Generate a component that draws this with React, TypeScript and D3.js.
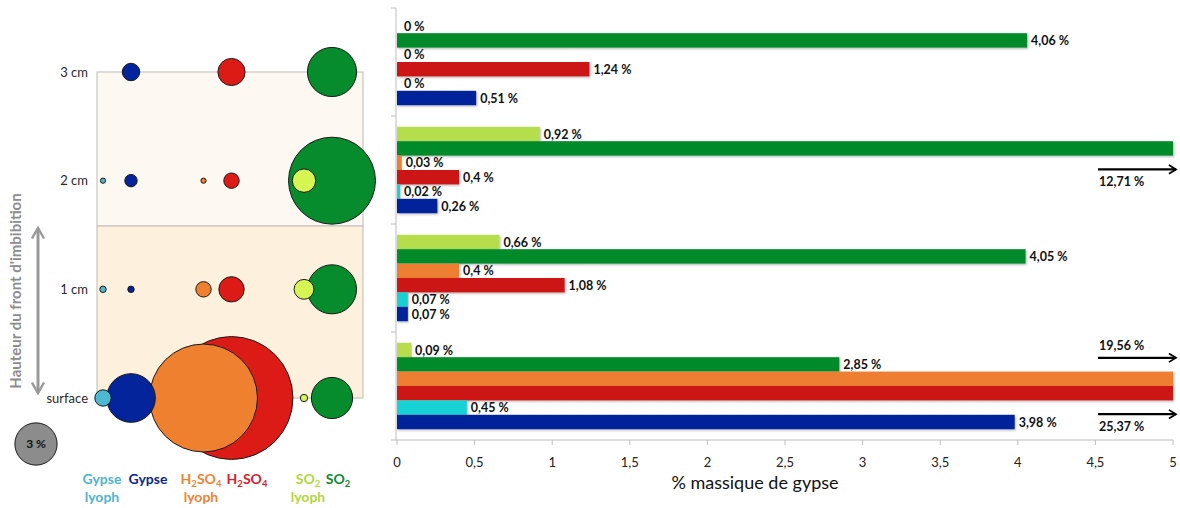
import { useEffect } from 'react'
import * as d3 from 'd3'

// depths, top to bottom
const depths = ['3 cm', '2 cm', '1 cm', 'surface']

// % massique de gypse, one value per depth (same order as depths)
const gypseLyoph = [0, 0.02, 0.07, 0.45]
const gypse = [0.51, 0.26, 0.07, 3.98]
const h2so4Lyoph = [0, 0.03, 0.4, 19.56]
const h2so4 = [1.24, 0.4, 1.08, 25.37]
const so2Lyoph = [0, 0.92, 0.66, 0.09]
const so2 = [4.06, 12.71, 4.05, 2.85]

const xTicks = [0, 0.5, 1, 1.5, 2, 2.5, 3, 3.5, 4, 4.5, 5]
const legendValue = 3

const series = [
  { key: 'so2Lyoph', pair: 'SO2', lyoph: true, values: so2Lyoph, bar: '#b6dd4c', bubble: '#d6f452', text: '#b2d63e' },
  { key: 'so2', pair: 'SO2', lyoph: false, values: so2, bar: '#058a2c', bubble: '#068c2c', text: '#118a2e' },
  { key: 'h2so4Lyoph', pair: 'H2SO4', lyoph: true, values: h2so4Lyoph, bar: '#ee7f31', bubble: '#ee8030', text: '#f08232' },
  { key: 'h2so4', pair: 'H2SO4', lyoph: false, values: h2so4, bar: '#cc1812', bubble: '#dc1b16', text: '#dc1a2e' },
  { key: 'gypseLyoph', pair: 'Gypse', lyoph: true, values: gypseLyoph, bar: '#19d2d4', bubble: '#4db8d2', text: '#4cb6d2' },
  { key: 'gypse', pair: 'Gypse', lyoph: false, values: gypse, bar: '#03249a', bubble: '#03249a', text: '#0a2790' },
]

const FONT = 'Lato, "Open Sans", sans-serif'
const fmt = (v: number) => `${String(v).replace('.', ',')} %`

// chemical formula with subscripts
function Formula({ name, x, y, color, size }: { name: string; x: number; y: number; color: string; size: number }) {
  const parts = name.match(/[A-Za-z]+|\d+/g) || []
  return (
    <text x={x} y={y} fill={color} fontSize={size} fontWeight={700} textAnchor="middle" fontFamily={FONT}>
      {parts.map((p, i) =>
        /\d/.test(p) ? (
          <tspan key={i} fontSize={size * 0.68} dy={3}>{p}</tspan>
        ) : (
          <tspan key={i} dy={i > 0 ? -3 : 0}>{p}</tspan>
        )
      )}
    </text>
  )
}

export default function App() {
  useEffect(() => {
    document.body.style.margin = '0'
  }, [])

  // ---------- bar chart ----------
  const x = d3.scaleLinear().domain([0, 5]).range([397, 1173]).clamp(true)
  const gy = d3.scaleBand().domain(depths).range([8, 440])
  const sy = d3.scaleBand().domain(series.map(s => s.key)).range([0, gy.bandwidth()]).paddingOuter(0.75)
  const axisY = 440

  const bars = series.flatMap(s =>
    depths.map((d, i) => ({ s, depth: d, value: s.values[i], y: (gy(d) as number) + (sy(s.key) as number) }))
  )

  // ---------- bubble panel ----------
  const rowY = d3.scalePoint().domain(depths).range([72, 398])
  const pairX = d3.scalePoint().domain(['Gypse', 'H2SO4', 'SO2']).range([117, 318])
  const colX = (s: typeof series[number]) => (pairX(s.pair) as number) + (s.lyoph ? -14 : 14)
  const r = d3.scaleSqrt().domain([0, 1]).range([0, 12.2])
  const bubbles = bars
    .filter(b => b.value > 0)
    .map(b => ({ ...b, cx: colX(b.s), cy: rowY(b.depth) as number, r: Math.max(2.6, r(b.value)) }))
    .sort((a, b) => b.r - a.r)

  const panelTop = rowY('3 cm') as number
  const panelBottom = rowY('surface') as number
  const split = 226

  return (
    <svg width={1180} height={508} style={{ position: 'absolute', left: 0, top: 0, display: 'block' }} fontFamily={FONT}>
      <defs>
        <filter id="sh" x="-5%" y="-30%" width="110%" height="180%">
          <feDropShadow dx="1" dy="1.2" stdDeviation="0.8" floodColor="#000" floodOpacity="0.3" />
        </filter>
        <marker id="ah" viewBox="0 0 10 10" refX="8" refY="5" markerWidth="5" markerHeight="5" orient="auto-start-reverse">
          <path d="M1,1 L8,5 L1,9" fill="none" stroke="#999" strokeWidth="1.6" />
        </marker>
        <marker id="bh" viewBox="0 0 14 14" refX="12" refY="7" markerWidth="11" markerHeight="11" orient="auto" markerUnits="userSpaceOnUse">
          <path d="M3,1.5 L12,7 L3,12.5" fill="none" stroke="#000" strokeWidth="2.2" />
        </marker>
      </defs>

      {/* ---------- left panel ---------- */}
      <rect x={97} y={panelTop} width={266} height={split - panelTop} fill="#fdf8f2" stroke="#c9c5c0" strokeWidth={1.2} />
      <rect x={97} y={split} width={266} height={panelBottom - split} fill="#fdf1dd" stroke="#c9c5c0" strokeWidth={1.2} />

      {depths.map(d => (
        <text key={d} x={88} y={(rowY(d) as number) + 4.5} textAnchor="end" fontSize={13} fill="#2a2a2a">{d}</text>
      ))}

      {bubbles.map(b => (
        <circle key={b.s.key + b.depth} cx={b.cx} cy={b.cy} r={b.r} fill={b.s.bubble} stroke="#1a1a1a" strokeWidth={1} />
      ))}

      {/* vertical arrow + label */}
      <line x1={38} y1={228} x2={38} y2={393} stroke="#999" strokeWidth={3} markerStart="url(#ah)" markerEnd="url(#ah)" />
      <text transform="translate(21,291) rotate(-90)" textAnchor="middle" fontSize={15} fontWeight={700} fill="#8c8c8c">
        Hauteur du front d'imbibition
      </text>

      {/* size legend */}
      <circle cx={36} cy={444} r={r(legendValue)} fill="#8c8c8c" stroke="#1a1a1a" strokeWidth={1} />
      <text x={36} y={448} textAnchor="middle" fontSize={12} fontWeight={700} fill="#111">{`${legendValue} %`}</text>

      {/* column legend */}
      {series.map(s => {
        const lx = s.pair === 'Gypse' ? (s.lyoph ? 102 : 148) : s.pair === 'H2SO4' ? (s.lyoph ? 201 : 247) : (s.lyoph ? 308 : 338)
        return (
          <g key={s.key}>
            {s.pair === 'Gypse' ? (
              <text x={lx} y={484} textAnchor="middle" fontSize={14} fontWeight={700} fill={s.text}>Gypse</text>
            ) : (
              <Formula name={s.pair} x={lx} y={484} color={s.text} size={14} />
            )}
            {s.lyoph && (
              <text x={lx} y={502} textAnchor="middle" fontSize={14} fontWeight={700} fill={s.text}>lyoph</text>
            )}
          </g>
        )
      })}

      {/* ---------- bar chart ---------- */}
      <line x1={396} x2={396} y1={8} y2={axisY} stroke="#bdbdbd" />
      {[...depths.map(d => gy(d) as number), axisY].map((t, i) => (
        <line key={i} x1={391} x2={396} y1={t} y2={t} stroke="#bdbdbd" />
      ))}
      <line x1={396} x2={1173} y1={axisY} y2={axisY} stroke="#bdbdbd" />
      {xTicks.map(t => (
        <g key={t}>
          <line x1={x(t)} x2={x(t)} y1={axisY} y2={axisY + 5} stroke="#bdbdbd" />
          <text x={x(t)} y={467} textAnchor="middle" fontSize={13} fill="#222">{String(t).replace('.', ',')}</text>
        </g>
      ))}
      <text x={755} y={489} textAnchor="middle" fontSize={18} fill="#111">% massique de gypse</text>

      {bars.map(b => (
        <rect key={b.s.key + b.depth} x={x(0)} y={b.y} width={x(b.value) - x(0)} height={sy.bandwidth()}
          fill={b.s.bar} filter={b.value > 0 ? 'url(#sh)' : undefined} />
      ))}

      {bars.filter(b => b.value <= 5).map(b => (
        <text key={b.s.key + b.depth} x={x(b.value) + (b.value === 0 ? 7 : 4)} y={b.y + sy.bandwidth() / 2 + 4.5}
          fontSize={12.5} fontWeight={700} fill="#111">{fmt(b.value)}</text>
      ))}

      {/* overflow arrows for values beyond the axis */}
      {bars.filter(b => b.value > 5).map(b => {
        const c = b.y + sy.bandwidth() / 2
        const dir = b.s.key === 'h2so4Lyoph' ? -1 : 1
        const ay = c + dir * 21
        return (
          <g key={'o' + b.s.key + b.depth}>
            <line x1={1098} x2={1176} y1={ay} y2={ay} stroke="#000" strokeWidth={2.2} markerEnd="url(#bh)" />
            <text x={1099} y={c + dir * 33 + 4.5} fontSize={12.5} fontWeight={700} fill="#111">{fmt(b.value)}</text>
          </g>
        )
      })}
    </svg>
  )
}
